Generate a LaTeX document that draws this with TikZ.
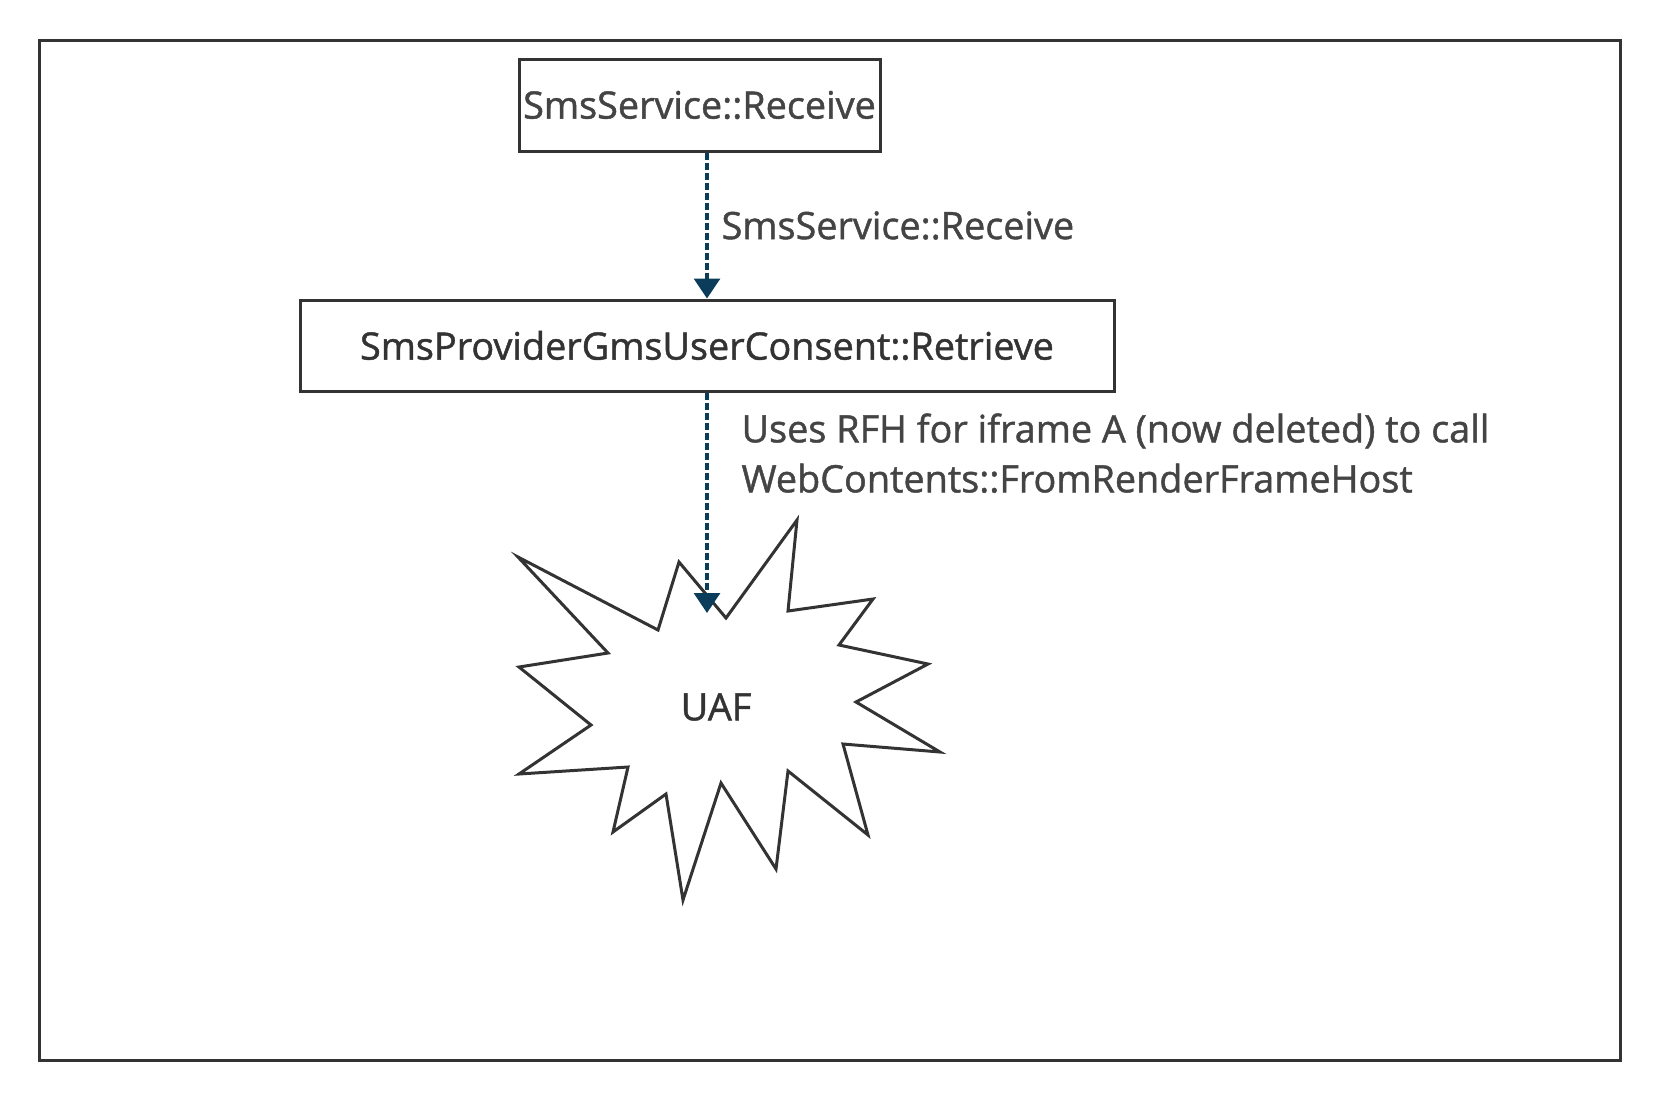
\documentclass[tikz,border=0pt]{standalone}
\usepackage{fontspec}
\setmainfont{Open Sans}
\newfontfamily\diagfont{Open Sans}[FakeBold=1.2]
\usepackage{xcolor}
\usetikzlibrary{arrows.meta,positioning}
\definecolor{edgegray}{HTML}{333333}
\definecolor{txtgray}{HTML}{444444}
\definecolor{linkblue}{HTML}{0B3D5A}
\tikzset{
  func/.style={rectangle, draw=edgegray, line width=1.5pt, fill=white, inner sep=0pt,
    align=center, font=\diagfont\fontsize{18.9}{23}\selectfont, text=txtgray},
  lbl/.style={font=\diagfont\fontsize{18.9}{25}\selectfont, text=txtgray, align=left, inner sep=0pt},
  link/.style={draw=linkblue, line width=1.6pt, dash pattern=on 3.5pt off 1.5pt,
    -{Triangle[length=10pt, width=13pt]}},
}
\begin{document}
\begin{tikzpicture}[x=0.5pt, y=-0.5pt]
  \useasboundingbox (0,0) rectangle (1660,1100);
  % outer frame
  \draw[edgegray, line width=1.5pt] (39,40) rectangle (1620,1060);
  \node[func, minimum width=180.5pt, minimum height=46pt] (recv) at (699.5,105) {SmsService::Receive};
  \node[func, minimum width=407pt, minimum height=45.5pt, text=edgegray] (retrieve) at (707,345.5)
    {SmsProviderGmsUserConsent::Retrieve};
  % explosion shape for the use-after-free
  \draw[edgegray, line width=1.5pt, line join=miter, fill=white]
    (518,557) -- (658,630) -- (679,562) -- (726,618) -- (797,520) -- (788,611)
    -- (873,599) -- (839,645) -- (928,664) -- (856,702) -- (940,752) -- (843,744)
    -- (868,835) -- (788,771) -- (776,869) -- (721,783) -- (683,900) -- (666,794)
    -- (613,832) -- (628,767) -- (519,774) -- (591,725) -- (519,667) -- (608,653) -- cycle;
  \node[font=\diagfont\fontsize{18.9}{23}\selectfont, text=edgegray] (uaf) at (716,707) {UAF};
  \coordinate (uaftip) at (707,613);

  \draw[link] (recv.south -| retrieve.north) -- (retrieve.north)
    node[lbl, midway, anchor=west, xshift=6.5pt] {SmsService::Receive};
  \draw[link] (retrieve.south) -- (uaftip)
    node[lbl, pos=0.275, anchor=west, xshift=16.5pt]
    {Uses RFH for iframe A (now deleted) to call\\WebContents::FromRenderFrameHost};
\end{tikzpicture}
\end{document}
